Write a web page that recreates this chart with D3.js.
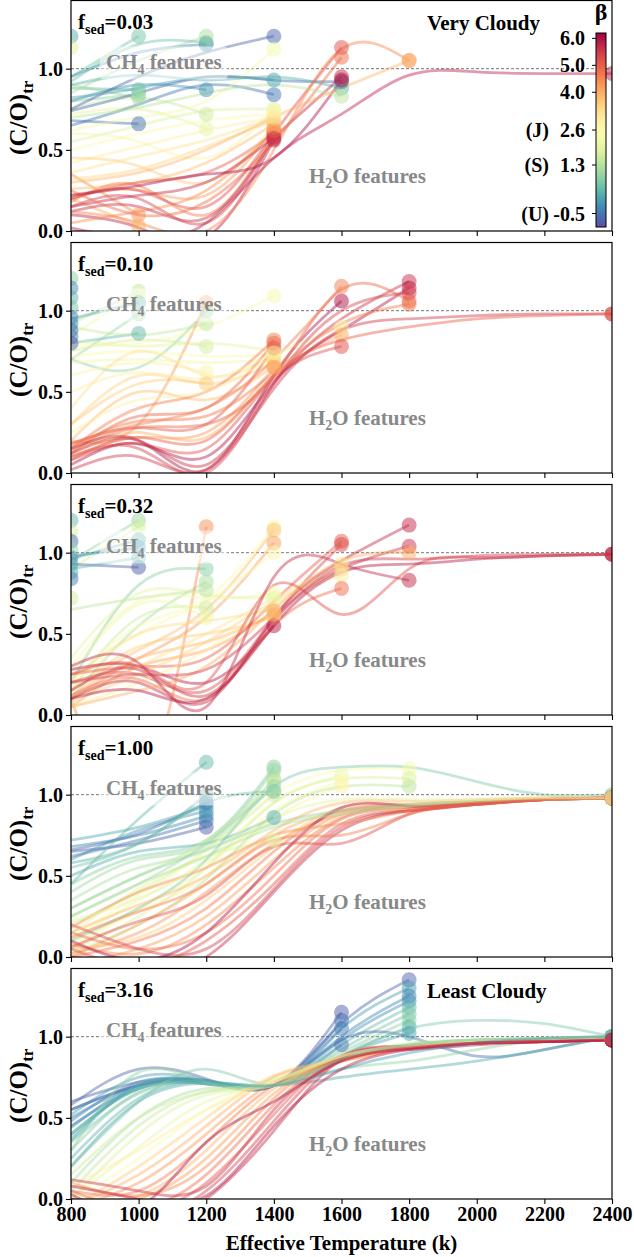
<!DOCTYPE html>
<html>
<head>
<meta charset="utf-8">
<script src="https://cdn.jsdelivr.net/npm/d3@7"></script>
<style>
  body { margin: 0; background: #fff; }
  svg { display: block; }
  text { font-family: "Liberation Serif", "Times New Roman", serif; font-weight: bold; }
</style>
</head>
<body>
<svg id="chart" width="634" height="1257"></svg>
<script>
// Effective temperature grid (K) shared by every model track
const teff = [800, 1000, 1200, 1400, 1600, 1800, 2000, 2200, 2400];
const xTicks = [800, 1000, 1200, 1400, 1600, 1800, 2000, 2200, 2400];
const yTicks = [0.0, 0.5, 1.0];
const fsedLabels = ["0.03", "0.10", "0.32", "1.00", "3.16"];
const cbTicks = [-0.5, 1.3, 2.6, 4.0, 5.0, 6.0];
const cbTickNames = ["(U)", "(S)", "(J)", "", "", ""];

// f_sed = 0.03 : beta of each track and (C/O)_tr along teff
const beta_003 = [0.2, 1.9, 0.6, 0.4, 0.9, -0.6, 1.1, 4.4, 4.0,
  -0.3, 1.2, -0.1, 2.0, 1.6, 0.5,
  -0.7, 0.1, -0.5, 2.3, 1.8, 2.6, 3.0, 3.4, 3.8, 4.2, 4.6, 5.0, 5.4, 5.8, 3.6, 4.4, 3.2, 2.8, 5.6,
  -0.6, 0.3, 5.2, 5.7, 4.8, 6.0, 1.4,
  4.5, 3.9, 5.8];
const co_003 = [
  [1.20], [1.13], [0.95, 1.20], [0.88, 0.87], [0.80, 0.84], [0.68, 0.66], [0.90, 0.82], [0.35, 0.10], [0.20, 0.03],
  [0.95, 1.10, 1.15], [0.85, 1.05, 1.20], [0.80, 0.90, 0.87], [0.72, 0.75, 0.63], [0.75, 0.82, 0.72], [0.92, 1.15, 1.16],
  [0.75, 0.95, 1.10, 1.20], [0.82, 0.88, 0.95, 0.93], [0.65, 0.78, 0.90, 0.84], [0.62, 0.70, 0.80, 1.12],
  [0.55, 0.65, 0.74, 0.75], [0.50, 0.60, 0.68, 0.72], [0.42, 0.52, 0.62, 0.70], [0.32, 0.38, 0.52, 0.68],
  [0.26, 0.30, 0.42, 0.66], [0.22, 0.25, 0.22, 0.63], [0.18, 0.28, 0.10, 0.60], [0.20, 0.30, 0.36, 0.60],
  [0.15, 0.20, 0.05, 0.58], [0.10, 0.02, -0.04, 0.56], [0.45, 0.40, 0.30, 0.64], [0.05, 0.12, 0.25, 0.62],
  [0.36, 0.46, 0.56, 0.70], [0.60, 0.55, 0.45, 0.74], [0.12, 0.15, 0.08, 0.57],
  [0.74, 0.85, 0.95, 0.93, 0.92], [0.90, 0.96, 0.93, 0.95, 0.88], [0.20, 0.25, 0.15, 0.60, 1.13],
  [0.15, 0.22, 0.30, 0.58, 0.95], [0.25, 0.10, 0.18, 0.55, 1.07], [0.22, 0.28, 0.35, 0.45, 0.93],
  [0.70, 0.76, 0.85, 0.90, 0.83],
  [0.12, 0.05, 0.00, 0.50, 1.12, 1.05], [0.30, 0.36, 0.50, 0.70, 0.88, 1.05],
  [0.02, -0.05, 0.05, 0.45, 0.72, 0.96, 0.98, 0.97, 0.97]
];

// f_sed = 0.10
const beta_010 = [0.8, -0.2, 0.3, 0.6, -0.4, -0.1, -0.6, -0.3, -0.8,
  1.4, 2.2, 0.2, 0.4, 1.0,
  0.9, 1.7, 1.5, 2.8, 3.6, 4.2,
  2.4, 2.0, 2.6, 2.2, 3.2, 3.5, 3.8, 4.6, 4.9, 5.1, 4.3, 3.0,
  6.0, 4.6, 2.9, 4.0, 5.2,
  5.6, 5.9, 4.9, 5.4, 4.7,
  5.5, 5.0];
const co_010 = [
  [1.20], [1.14], [1.08], [1.02], [0.96], [0.92], [0.88], [0.84], [0.80],
  [0.92, 1.12], [0.85, 1.10], [0.95, 1.05], [0.80, 0.86], [0.70, 0.98],
  [0.70, 0.65, 1.00], [0.75, 0.82, 0.78], [0.90, 0.85, 0.92], [0.60, 0.68, 0.62], [0.30, 0.55, 0.55], [0.20, 0.30, 1.05],
  [0.78, 0.80, 0.90, 1.09], [0.82, 0.78, 0.80, 0.75], [0.72, 0.75, 0.72, 0.73], [0.68, 0.70, 0.68, 0.70],
  [0.40, 0.75, 0.60, 0.72], [0.30, 0.60, 0.55, 0.68], [0.20, 0.50, 0.45, 0.66], [0.15, 0.40, 0.50, 0.82],
  [0.12, 0.35, 0.40, 0.80], [0.18, 0.28, 0.30, 0.77], [0.10, 0.22, 0.25, 0.65], [0.50, 0.62, 0.58, 0.74],
  [0.15, 0.20, 0.02, 0.60, 1.06], [0.18, 0.30, 0.40, 0.70, 1.15], [0.25, 0.45, 0.50, 0.72, 0.90],
  [0.12, 0.25, 0.22, 0.60, 0.85], [0.08, 0.18, 0.15, 0.58, 0.78],
  [0.12, 0.20, 0.05, 0.55, 0.95, 1.18], [0.05, 0.18, 0.10, 0.56, 0.88, 1.14], [0.14, 0.28, 0.30, 0.60, 1.13, 1.06],
  [0.10, 0.15, 0.00, 0.55, 1.00, 1.11], [0.16, 0.32, 0.35, 0.62, 0.92, 1.04],
  [0.02, 0.10, 0.02, 0.52, 0.88, 0.95, 0.97, 0.98, 0.98], [0.08, 0.22, 0.20, 0.60, 0.82, 0.90, 0.95, 0.97, 0.98]
];

// f_sed = 0.32
const beta_032 = [0.4, 1.8, -0.6, 1.0, -0.2, 0.0, 0.2, -0.4, 1.6,
  1.0, 1.8, 0.2, -0.1, -0.8, 0.4,
  0.8, 1.2, 1.4, 1.6, 2.2, 4.4,
  2.4, 3.8, 4.2, 2.6, 2.3, 2.0, 3.3, 3.6, 5.9, 3.9, 4.1,
  5.0, 5.3, 3.2, 3.5, 3.0, 4.8,
  5.7, 5.6, 4.0, 5.7,
  5.2, 5.9, 5.5];
const co_032 = [
  [1.20], [1.13], [1.07], [1.02], [0.97], [0.93], [0.88], [0.84], [0.72],
  [0.95, 1.20], [0.90, 1.16], [0.96, 1.08], [0.98, 1.03], [0.93, 0.91], [0.90, 0.97],
  [0.20, 0.80, 0.90], [0.10, 0.55, 0.82], [0.65, 0.72, 0.77], [0.15, 0.60, 0.66], [0.25, 0.68, 0.60], [0.10, -0.50, 1.16],
  [0.20, 0.55, 0.72, 1.16], [0.15, 0.40, 0.65, 1.14], [0.10, 0.35, 0.60, 1.06], [0.18, 0.50, 0.70, 1.00],
  [0.30, 0.70, 0.72, 0.75], [0.35, 0.75, 0.74, 0.72], [0.22, 0.50, 0.58, 0.65], [0.15, 0.42, 0.50, 0.60],
  [0.28, 0.30, 0.20, 0.55], [0.12, 0.35, 0.45, 0.62], [0.05, 0.30, 0.40, 0.64],
  [0.25, 0.30, 0.35, 0.70, 1.07], [0.20, 0.25, 0.15, 0.60, 1.05], [0.10, 0.30, 0.50, 0.72, 0.93],
  [0.08, 0.25, 0.45, 0.70, 0.90], [0.05, 0.20, 0.40, 0.68, 0.86], [0.12, 0.22, 0.10, 0.55, 0.78],
  [0.10, 0.20, 0.08, 0.60, 0.95, 1.17], [0.15, 0.28, 0.12, 0.58, 0.90, 1.04], [0.05, 0.15, 0.30, 0.65, 0.95, 1.00],
  [0.30, 0.32, 0.05, 0.85, 0.93, 0.83],
  [0.25, 0.30, 0.20, 0.80, 0.62, 0.90, 0.97, 0.98, 0.99], [0.10, 0.15, 0.10, 0.55, 0.88, 0.93, 0.96, 0.98, 0.99],
  [0.20, 0.25, 0.28, 0.60, 0.92, 0.96, 0.98, 0.99, 0.99]
];

// f_sed = 1.00
const beta_100 = [-0.8, -0.5, -0.3, -0.1, 0.1, -0.6, 0.3, 0.4,
  0.2, 0.8, 1.0, 1.2, 1.5, 1.1, 1.7, 1.9, 0.6,
  2.2, 2.5, 2.8,
  2.4, 1.8, 1.4,
  0.7, 4.0, 4.3, 3.6, 4.7, 4.2, 4.5, 4.8, 5.1, 5.4, 5.7, 6.0, 1.3, 0.9, 4.4, 4.6, 5.2, 3.9, 2.0];
const co_100 = [
  [0.65, 0.70, 0.80], [0.62, 0.72, 0.84], [0.68, 0.75, 0.87], [0.60, 0.78, 0.90], [0.72, 0.80, 0.93],
  [0.66, 0.76, 0.95], [0.58, 0.70, 1.00], [0.45, 0.85, 1.20],
  [0.50, 0.65, 0.70, 0.86], [0.45, 0.62, 0.72, 1.17], [0.40, 0.60, 0.70, 1.15], [0.35, 0.55, 0.68, 1.10],
  [0.30, 0.50, 0.72, 1.08], [0.25, 0.45, 0.70, 1.05], [0.20, 0.40, 0.66, 1.00], [0.15, 0.42, 0.62, 0.72],
  [0.55, 0.70, 0.95, 1.02],
  [0.10, 0.35, 0.60, 0.95, 1.12], [0.05, 0.30, 0.55, 0.90, 1.08], [0.08, 0.28, 0.50, 0.85, 1.05],
  [0.12, 0.38, 0.65, 1.00, 1.15, 1.16], [0.04, 0.25, 0.55, 0.95, 1.10, 1.10], [0.02, 0.20, 0.48, 0.88, 1.05, 1.05],
  [0.10, 0.30, 0.60, 1.05, 1.17, 1.17, 1.08, 1.00, 1.00],
  [0.00, 0.20, 0.45, 0.75, 0.90, 0.94, 0.96, 0.98, 0.98], [0.02, 0.15, 0.40, 0.70, 0.88, 0.93, 0.95, 0.97, 0.98],
  [0.05, 0.12, 0.35, 0.68, 0.92, 0.94, 0.96, 0.97, 0.98], [0.00, 0.10, 0.30, 0.65, 0.90, 0.93, 0.95, 0.97, 0.98],
  [-0.05, 0.05, 0.25, 0.60, 0.88, 0.92, 0.95, 0.97, 0.98], [0.08, 0.02, 0.20, 0.55, 0.86, 0.92, 0.95, 0.97, 0.98],
  [0.15, 0.05, 0.15, 0.50, 0.85, 0.91, 0.95, 0.97, 0.98], [0.05, -0.05, 0.10, 0.45, 0.82, 0.90, 0.94, 0.97, 0.98],
  [0.20, 0.05, 0.05, 0.42, 0.80, 0.90, 0.94, 0.97, 0.98], [0.00, -0.10, 0.00, 0.40, 0.78, 0.90, 0.94, 0.97, 0.98],
  [0.10, -0.02, 0.15, 0.58, 0.92, 0.93, 0.95, 0.97, 0.98], [0.25, 0.45, 0.62, 0.80, 0.88, 0.93, 0.96, 0.97, 0.98],
  [0.30, 0.50, 0.66, 0.82, 0.90, 0.94, 0.96, 0.97, 0.98], [0.18, 0.40, 0.55, 0.75, 0.82, 0.90, 0.95, 0.97, 0.98],
  [0.12, 0.28, 0.45, 0.72, 0.75, 0.88, 0.94, 0.97, 0.98], [0.06, 0.22, 0.38, 0.68, 0.70, 0.88, 0.94, 0.97, 0.98],
  [0.15, 0.32, 0.50, 0.78, 0.95, 0.96, 0.97, 0.98, 0.98], [0.22, 0.36, 0.58, 0.85, 0.97, 0.97, 0.97, 0.98, 0.98]
];

// f_sed = 3.16
const beta_316 = [-0.8, -0.6, -0.4, -0.5,
  -0.7, 0.0, -0.3, -0.2, 0.4, 0.6, 0.8, 0.3, 0.1,
  -0.6, 0.2, 0.7, 0.9, 1.2, 1.5, 1.8, 2.1, 2.4, 3.6, 4.0, 4.3, 4.6, 3.9, 4.2, 4.5, 4.8, 5.1, 5.4, 5.7, 6.0,
  2.9, 1.6, 0.5, 0.0, 5.6, 5.9];
const co_316 = [
  [0.60, 0.72, 0.72, 0.70, 1.15], [0.55, 0.70, 0.73, 0.70, 1.10], [0.50, 0.70, 0.72, 0.70, 1.05], [0.45, 0.68, 0.71, 0.70, 0.95],
  [0.58, 0.80, 0.74, 0.70, 1.08, 1.35], [0.52, 0.75, 0.73, 0.70, 1.05, 1.30], [0.48, 0.72, 0.72, 0.70, 1.00, 1.25],
  [0.44, 0.70, 0.72, 0.70, 0.98, 1.22], [0.40, 0.68, 0.71, 0.70, 0.95, 1.18], [0.35, 0.65, 0.72, 0.70, 0.92, 1.14],
  [0.30, 0.66, 0.71, 0.70, 0.90, 1.10], [0.25, 0.62, 0.72, 0.70, 0.88, 1.06], [0.20, 0.60, 0.71, 0.70, 0.88, 1.02],
  [0.55, 0.70, 0.72, 0.70, 0.98, 1.00, 0.88, 0.92, 1.00], [0.40, 0.68, 0.72, 0.70, 0.75, 0.80, 0.85, 0.92, 1.00],
  [0.20, 0.60, 0.80, 0.70, 0.88, 1.05, 1.10, 1.08, 1.00], [0.30, 0.78, 0.72, 0.70, 0.80, 0.85, 0.92, 0.98, 1.00],
  [0.10, 0.50, 0.68, 0.70, 0.85, 0.95, 0.98, 0.99, 1.00], [0.05, 0.45, 0.66, 0.70, 0.86, 0.96, 0.98, 0.99, 1.00],
  [0.00, 0.40, 0.64, 0.70, 0.86, 0.95, 0.98, 0.99, 0.99], [0.00, 0.32, 0.60, 0.72, 0.87, 0.95, 0.97, 0.99, 0.99],
  [-0.02, 0.25, 0.55, 0.74, 0.86, 0.94, 0.97, 0.98, 0.99], [-0.05, 0.20, 0.50, 0.76, 0.86, 0.94, 0.97, 0.98, 0.99],
  [-0.05, 0.15, 0.45, 0.75, 0.85, 0.93, 0.96, 0.98, 0.98], [-0.05, 0.10, 0.40, 0.72, 0.85, 0.93, 0.96, 0.98, 0.98],
  [0.05, 0.05, 0.35, 0.70, 0.86, 0.93, 0.96, 0.98, 0.98], [0.00, 0.02, 0.30, 0.68, 0.86, 0.93, 0.96, 0.97, 0.98],
  [-0.05, 0.00, 0.25, 0.65, 0.87, 0.93, 0.96, 0.97, 0.98], [0.10, 0.02, 0.20, 0.62, 0.88, 0.94, 0.96, 0.97, 0.98],
  [0.05, -0.05, 0.15, 0.58, 0.88, 0.94, 0.96, 0.97, 0.98], [0.00, -0.08, 0.10, 0.52, 0.88, 0.94, 0.96, 0.97, 0.98],
  [0.00, -0.10, 0.05, 0.48, 0.87, 0.94, 0.96, 0.97, 0.98], [0.00, -0.15, 0.00, 0.42, 0.86, 0.93, 0.96, 0.97, 0.98],
  [0.03, -0.05, 0.35, 0.60, 0.85, 0.92, 0.95, 0.97, 0.98],
  [0.08, 0.30, 0.55, 0.72, 0.88, 0.94, 0.96, 0.98, 0.99], [0.15, 0.50, 0.66, 0.73, 0.88, 0.95, 0.97, 0.99, 0.99],
  [0.38, 0.70, 0.72, 0.70, 0.86, 0.95, 0.98, 0.99, 1.00], [0.36, 0.70, 0.73, 0.70, 0.80, 0.90, 0.96, 0.99, 1.00],
  [0.12, 0.05, 0.08, 0.55, 0.85, 0.93, 0.96, 0.97, 0.98], [0.08, 0.00, 0.02, 0.45, 0.80, 0.92, 0.96, 0.97, 0.98]
];

const panels = [
  { fsed: fsedLabels[0], betas: beta_003, co: co_003, note: "Very Cloudy" },
  { fsed: fsedLabels[1], betas: beta_010, co: co_010, note: null },
  { fsed: fsedLabels[2], betas: beta_032, co: co_032, note: null },
  { fsed: fsedLabels[3], betas: beta_100, co: co_100, note: null },
  { fsed: fsedLabels[4], betas: beta_316, co: co_316, note: "Least Cloudy" }
];

const svg = d3.select("#chart");
const left = 71, right = 612, panelH = 230.5, panelStep = 242, top0 = 0.5;
const x = d3.scaleLinear().domain([800, 2400]).range([left, right]);
const y = d3.scaleLinear().domain([0, 1.42]).range([panelH, 0]);

// beta colour scale (Spectral, reversed: blue = low beta, red = high beta)
const betaMin = -1.0, betaMax = 6.2;
const color = b => d3.interpolateSpectral(1 - (b - betaMin) / (betaMax - betaMin));

const line = d3.line()
  .defined(d => d.v != null)
  .x(d => x(d.t))
  .y(d => y(d.v))
  .curve(d3.curveNatural);

panels.forEach((p, i) => {
  const g = svg.append("g").attr("transform", `translate(0,${top0 + i * panelStep})`);
  const clipId = "clip" + i;
  g.append("clipPath").attr("id", clipId)
    .append("rect").attr("x", left).attr("y", 0).attr("width", right - left).attr("height", panelH);

  const plot = g.append("g").attr("clip-path", `url(#${clipId})`);

  // reference line at C/O = 1
  plot.append("line")
    .attr("x1", x(800)).attr("x2", x(2400)).attr("y1", y(1)).attr("y2", y(1))
    .attr("stroke", "#555").attr("stroke-width", 0.8).attr("stroke-dasharray", "3,2");

  const tracks = p.co.map((vals, k) => ({
    beta: p.betas[k],
    pts: vals.map((v, j) => ({ t: teff[j], v: v })).filter(d => d.v != null)
  }));

  // model tracks
  plot.selectAll("path.track").data(tracks).enter().append("path")
    .attr("class", "track")
    .attr("d", d => d.pts.length > 1 ? line(d.pts) : null)
    .attr("fill", "none")
    .attr("stroke", d => color(d.beta))
    .attr("stroke-width", 2.8)
    .attr("stroke-opacity", 0.45);

  // end point of each track
  plot.selectAll("circle.end").data(tracks).enter().append("circle")
    .attr("class", "end")
    .attr("cx", d => x(d.pts[d.pts.length - 1].t))
    .attr("cy", d => y(d.pts[d.pts.length - 1].v))
    .attr("r", 7.5)
    .attr("fill", d => color(d.beta))
    .attr("fill-opacity", 0.5);

  // feature labels
  const ch4 = g.append("g");
  const ch4Text = ch4.append("text").attr("x", 106).attr("y", 68).attr("font-size", 21).attr("fill", "#888");
  ch4Text.append("tspan").text("CH");
  ch4Text.append("tspan").attr("font-size", 14).attr("dy", 5).text("4");
  ch4Text.append("tspan").attr("dy", -5).text(" features");
  const bb = ch4Text.node().getBBox();
  ch4.insert("rect", "text")
    .attr("x", bb.x - 6).attr("y", bb.y - 3).attr("width", bb.width + 12).attr("height", bb.height + 6)
    .attr("rx", 4).attr("fill", "#fff").attr("fill-opacity", 0.5);

  const h2o = g.append("text").attr("x", 309).attr("y", 182).attr("font-size", 21).attr("fill", "#888");
  h2o.append("tspan").text("H");
  h2o.append("tspan").attr("font-size", 14).attr("dy", 5).text("2");
  h2o.append("tspan").attr("dy", -5).text("O features");

  // frame
  g.append("rect").attr("x", left).attr("y", 0).attr("width", right - left).attr("height", panelH)
    .attr("fill", "none").attr("stroke", "#000").attr("stroke-width", 1.2);

  // axes
  const xAxis = d3.axisBottom(x).tickValues(xTicks).tickSize(5).tickPadding(3)
    .tickFormat(i === panels.length - 1 ? d3.format("d") : () => "");
  const xa = g.append("g").attr("transform", `translate(0,${panelH})`).call(xAxis);
  const yAxis = d3.axisLeft(y).tickValues(yTicks).tickSize(5).tickPadding(3).tickFormat(d3.format(".1f"));
  const ya = g.append("g").attr("transform", `translate(${left},0)`).call(yAxis);
  [xa, ya].forEach(a => {
    a.select(".domain").remove();
    a.selectAll(".tick line").attr("stroke", "#000").attr("stroke-width", 1.1);
    a.selectAll(".tick text").attr("font-size", 20).attr("fill", "#000")
      .attr("font-family", "Liberation Serif, serif").attr("font-weight", "bold");
  });

  // f_sed label
  const fl = g.append("text").attr("x", 78).attr("y", 28).attr("font-size", 21).attr("fill", "#000");
  fl.append("tspan").text("f");
  fl.append("tspan").attr("font-size", 14).attr("dy", 5).text("sed");
  fl.append("tspan").attr("dy", -5).text("=" + p.fsed);

  if (p.note) {
    g.append("text").attr("x", 427).attr("y", 29).attr("font-size", 21).attr("fill", "#000").text(p.note);
  }

  // y label
  const yl = g.append("text")
    .attr("transform", `translate(27,${panelH / 2 + 2}) rotate(-90)`)
    .attr("text-anchor", "middle").attr("font-size", 25).attr("fill", "#000");
  yl.append("tspan").text("(C/O)");
  yl.append("tspan").attr("font-size", 17).attr("dy", 6).text("tr");
});

// x label
svg.append("text").attr("x", (left + right) / 2).attr("y", 1250)
  .attr("text-anchor", "middle").attr("font-size", 21).attr("fill", "#000")
  .text("Effective Temperature (k)");

// colour bar
const cbX = 596, cbW = 10, cbTop = 33, cbBot = 227;
const cb = d3.scaleLinear().domain([betaMin, betaMax]).range([cbBot, cbTop]);
const grad = svg.append("defs").append("linearGradient").attr("id", "cbgrad")
  .attr("x1", 0).attr("y1", 1).attr("x2", 0).attr("y2", 0);
d3.range(0, 1.0001, 0.05).forEach(s => {
  grad.append("stop").attr("offset", s).attr("stop-color", color(betaMin + s * (betaMax - betaMin)));
});
svg.append("rect").attr("x", cbX).attr("y", cbTop).attr("width", cbW).attr("height", cbBot - cbTop)
  .attr("fill", "url(#cbgrad)").attr("stroke", "#000").attr("stroke-width", 1);
cbTicks.forEach((t, k) => {
  svg.append("line").attr("x1", cbX - 4).attr("x2", cbX).attr("y1", cb(t)).attr("y2", cb(t))
    .attr("stroke", "#000").attr("stroke-width", 1);
  svg.append("text").attr("x", 585).attr("y", cb(t)).attr("dy", "0.35em")
    .attr("text-anchor", "end").attr("font-size", 20).attr("fill", "#000").text(t.toFixed(1));
  if (cbTickNames[k]) {
    svg.append("text").attr("x", 549).attr("y", cb(t)).attr("dy", "0.35em")
      .attr("text-anchor", "end").attr("font-size", 20).attr("fill", "#000").text(cbTickNames[k]);
  }
});
svg.append("text").attr("x", 601).attr("y", 20).attr("text-anchor", "middle")
  .attr("font-size", 24).attr("fill", "#000").text("β");
</script>
</body>
</html>
